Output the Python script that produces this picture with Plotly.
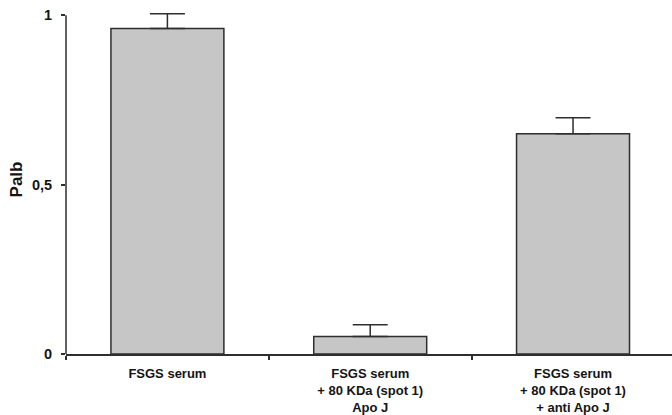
import plotly.graph_objects as go

categories = ["FSGS serum",
              "FSGS serum<br>+ 80 KDa (spot 1)<br>Apo J",
              "FSGS serum<br>+ 80 KDa (spot 1)<br>+ anti Apo J"]
palb_values = [0.961, 0.052, 0.650]
palb_errors = [0.043, 0.034, 0.047]
y_tick_vals = [0, 0.5, 1]
y_tick_text = ["0", "0,5", "1"]

FONT = "Liberation Sans, Arial, sans-serif"
DARK = "#2e2e2e"
TXT = "#141414"

fig = go.Figure()
fig.add_trace(go.Bar(
    x=categories,
    y=palb_values,
    width=0.557,
    marker=dict(color="#c6c6c6", line=dict(color=DARK, width=1.5)),
    error_y=dict(type="data", array=palb_errors, symmetric=False,
                 arrayminus=[0] * len(palb_errors),
                 color=DARK, thickness=1.5, width=17.5),
    cliponaxis=False,
    showlegend=False,
))

# y-axis line only from 0 to 1 (range extends slightly above for the error cap)
fig.add_shape(type="line", xref="paper", yref="y", x0=0, x1=0, y0=0, y1=1,
              line=dict(color=DARK, width=1.5))

fig.update_layout(
    width=672, height=415,
    margin=dict(l=66, r=0, t=5, b=61, pad=0),
    paper_bgcolor="white", plot_bgcolor="white",
    font=dict(family=FONT, color=TXT),
    xaxis=dict(
        type="category",
        range=[-0.5, 2.488],
        showline=True, linecolor=DARK, linewidth=1.5,
        ticks="outside", tickson="boundaries", ticklen=4, tickcolor=DARK, tickwidth=1.5,
        tickfont=dict(family=FONT, size=13, weight="bold", color=TXT),
        showgrid=False, zeroline=False,
        ticklabelstandoff=7,
    ),
    yaxis=dict(
        range=[0, 1.03],
        tickvals=y_tick_vals, ticktext=y_tick_text,
        showline=False,
        ticks="outside", ticklen=4, tickcolor=DARK, tickwidth=1.5,
        tickfont=dict(family=FONT, size=14.5, weight="bold", color=TXT),
        showgrid=False, zeroline=False,
        ticklabelstandoff=6,
        title=dict(text="Palb", font=dict(family=FONT, size=17, weight="bold", color=TXT),
                   standoff=4),
    ),
)

fig.write_html("out.html")
